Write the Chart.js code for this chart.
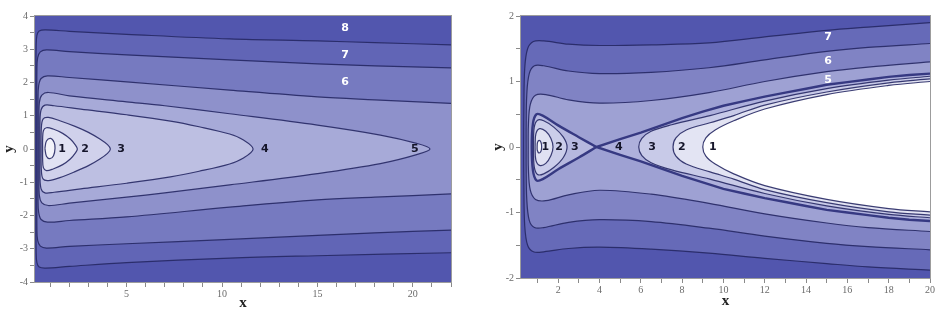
<!DOCTYPE html>
<html><head><meta charset="utf-8">
<script src="https://cdn.jsdelivr.net/npm/chart.js@4.4.0/dist/chart.umd.min.js"></script>
<style>
html,body{margin:0;padding:0;background:#fff;width:950px;height:316px;overflow:hidden}
#cl{position:absolute;left:0;top:0}
#cr{position:absolute;left:470px;top:0}
</style></head><body>
<canvas id="cl" width="470" height="316"></canvas>
<canvas id="cr" width="480" height="316"></canvas>
<script>
// ---------------- LEFT PANEL DATA (contour lines, outermost first) ----------------
const leftXTicks = [1,2,3,4,5,6,7,8,9,10,11,12,13,14,15,16,17,18,19,20,21,22];
const leftXLabels = [5,10,15,20];
const leftYTicks = [-4,-3.5,-3,-2.5,-2,-1.5,-1,-0.5,0,0.5,1,1.5,2,2.5,3,3.5,4];
const leftYLabels = [-4,-3,-2,-1,0,1,2,3,4];

const leftA = [[22,3.13],[18,3.2],[15,3.25],[10.4,3.31],[5,3.45],[2,3.54],[0.75,3.58],[0.42,3.55],[0.3,3.42],[0.26,3.1],[0.25,2],[0.25,0],[0.25,-2],[0.26,-3.1],[0.3,-3.42],[0.42,-3.55],[0.75,-3.58],[2,-3.53],[5,-3.42],[10.4,-3.28],[15,-3.21],[22,-3.12]];
const leftB = [[22,2.44],[18,2.5],[15,2.56],[10.4,2.68],[5,2.83],[2,2.93],[0.8,2.98],[0.48,2.92],[0.34,2.75],[0.3,2.4],[0.3,1.2],[0.3,0],[0.3,-1.2],[0.3,-2.4],[0.34,-2.75],[0.48,-2.92],[0.8,-2.98],[2,-2.93],[5,-2.85],[10.4,-2.72],[15,-2.6],[18,-2.52],[22,-2.44]];
const leftC = [[22,1.37],[18,1.48],[15,1.57],[10.4,1.77],[5,2.02],[2,2.15],[0.85,2.2],[0.52,2.12],[0.39,1.9],[0.36,1.5],[0.36,0],[0.36,-1.5],[0.39,-1.9],[0.52,-2.12],[0.85,-2.2],[2,-2.15],[5,-2.04],[10.4,-1.75],[15,-1.53],[18,-1.45],[22,-1.35]];
const leftD = [[0.41,0],[0.41,0.8],[0.43,1.4],[0.56,1.62],[0.9,1.7],[2,1.6],[5,1.42],[7,1.3],[10.4,1.06],[15,0.72],[18.3,0.42],[20.2,0.17],[20.9,0],[20.2,-0.17],[18.3,-0.44],[15,-0.74],[10.4,-1.08],[7,-1.32],[5,-1.45],[2,-1.63],[0.9,-1.7],[0.56,-1.62],[0.43,-1.4],[0.41,-0.8],[0.41,0]];
const leftE = [[0.46,0],[0.46,0.8],[0.52,1.18],[0.72,1.32],[1.2,1.3],[2.6,1.2],[5,1.03],[7.3,0.84],[8.8,0.67],[10.4,0.45],[11.1,0.28],[11.63,0],[11.1,-0.28],[10.4,-0.45],[8.8,-0.67],[7.3,-0.84],[5,-1.03],[2.6,-1.2],[1.2,-1.3],[0.72,-1.32],[0.52,-1.2],[0.46,-0.8],[0.46,0]];
const leftF = [[0.52,0],[0.53,0.6],[0.62,0.9],[0.9,0.95],[1.5,0.85],[2.3,0.68],[3.0,0.5],[3.6,0.3],[4.0,0.13],[4.15,0],[4.0,-0.13],[3.6,-0.3],[3.0,-0.5],[2.3,-0.68],[1.5,-0.86],[0.9,-0.95],[0.62,-0.9],[0.53,-0.6],[0.52,0]];
const leftG = [[0.6,0],[0.6,0.3],[0.64,0.55],[0.8,0.64],[1.15,0.6],[1.65,0.47],[2.05,0.3],[2.3,0.13],[2.42,0],[2.3,-0.13],[2.05,-0.3],[1.65,-0.47],[1.15,-0.6],[0.8,-0.65],[0.64,-0.56],[0.6,-0.3],[0.6,0]];
const leftH = [[0.72,0.02],[0.8,0.24],[1.02,0.32],[1.2,0.2],[1.25,0.02],[1.17,-0.2],[0.98,-0.29],[0.8,-0.22],[0.72,0.02]];

const leftLabelText = ['1','2','3','4','5','6','7','8'];
const leftLabelX = [1.62,2.82,4.71,12.25,20.1,16.45,16.45,16.45];
const leftLabelY = [0,0,0,0,0,2.02,2.83,3.64];

// ---------------- RIGHT PANEL DATA ----------------
const rightXTicks = [1,2,3,4,5,6,7,8,9,10,11,12,13,14,15,16,17,18,19,20];
const rightXLabels = [2,4,6,8,10,12,14,16,18,20];
const rightYTicks = [-2,-1.5,-1,-0.5,0,0.5,1,1.5,2];
const rightYLabels = [-2,-1,0,1,2];

const rightR1 = [[20,1.9],[17,1.83],[15,1.78],[12,1.68],[9.3,1.59],[6.5,1.56],[4,1.55],[2.5,1.57],[1.3,1.62],[0.8,1.61],[0.52,1.5],[0.38,1.2],[0.34,0.6],[0.33,0],[0.34,-0.6],[0.38,-1.2],[0.52,-1.5],[0.8,-1.6],[1.3,-1.6],[2.5,-1.55],[4,-1.53],[6.5,-1.56],[9.3,-1.62],[12,-1.7],[15,-1.78],[17,-1.83],[20,-1.88]];
const rightR2 = [[20,1.58],[17,1.52],[15,1.46],[12,1.33],[9.3,1.21],[6.5,1.14],[4,1.12],[2.5,1.16],[1.3,1.24],[0.85,1.24],[0.6,1.12],[0.48,0.8],[0.45,0.3],[0.45,0],[0.45,-0.3],[0.48,-0.8],[0.6,-1.12],[0.85,-1.23],[1.3,-1.23],[2.5,-1.15],[4,-1.11],[6.5,-1.14],[9.3,-1.24],[12,-1.36],[15,-1.47],[17,-1.52],[20,-1.57]];
const rightR3 = [[20,1.3],[17,1.22],[15,1.15],[12,1.0],[9.3,0.83],[6.5,0.71],[4,0.67],[2.5,0.72],[1.4,0.8],[0.9,0.79],[0.65,0.65],[0.56,0.35],[0.55,0],[0.56,-0.35],[0.65,-0.66],[0.9,-0.8],[1.4,-0.82],[2.5,-0.73],[4,-0.66],[6.5,-0.72],[9.3,-0.86],[12,-1.02],[15,-1.16],[17,-1.23],[20,-1.29]];
const rightLobe = [[3.85,0],[3.0,0.15],[2.0,0.33],[1.25,0.48],[0.95,0.5],[0.78,0.36],[0.72,0],[0.78,-0.36],[0.95,-0.51],[1.25,-0.49],[2.0,-0.34],[3.0,-0.16],[3.85,0]];
const rightWedge = [[20,1.12],[19,1.1],[18,1.07],[17,1.03],[16,0.99],[15,0.95],[14,0.89],[13,0.83],[12,0.77],[11,0.7],[10,0.63],[9,0.54],[8,0.44],[7,0.33],[6,0.22],[5,0.12],[3.85,0],[5,-0.12],[6,-0.22],[7,-0.33],[8,-0.44],[9,-0.54],[10,-0.64],[11,-0.71],[12,-0.78],[13,-0.84],[14,-0.9],[15,-0.96],[16,-1.0],[17,-1.04],[18,-1.08],[19,-1.11],[20,-1.13]];
const rightC2 = [[0.8,0],[0.84,0.3],[1.0,0.41],[1.3,0.4],[1.8,0.3],[2.25,0.15],[2.43,0],[2.25,-0.16],[1.8,-0.31],[1.3,-0.41],[1.0,-0.42],[0.84,-0.3],[0.8,0]];
const rightC1 = [[0.88,0],[0.92,0.2],[1.1,0.28],[1.4,0.24],[1.65,0.13],[1.75,0],[1.65,-0.13],[1.4,-0.25],[1.1,-0.28],[0.92,-0.2],[0.88,0]];
const rightO = [[0.98,0.0],[1.0,0.07],[1.08,0.1],[1.17,0.07],[1.2,0.0],[1.16,-0.07],[1.06,-0.09],[0.99,-0.05],[0.98,0.0]];
const rightQ3 = [[20,1.08],[18,1.02],[15,0.89],[12,0.7],[9.35,0.48],[7.5,0.34],[6.5,0.24],[6.05,0.13],[5.9,0],[6.05,-0.13],[6.5,-0.24],[7.5,-0.35],[9.35,-0.49],[12,-0.71],[15,-0.9],[18,-1.03],[20,-1.08]];
const rightQ2 = [[20,1.04],[18,0.98],[15,0.84],[12,0.64],[10.5,0.48],[9.35,0.37],[8.2,0.26],[7.7,0.14],[7.56,0],[7.7,-0.14],[8.2,-0.26],[9.35,-0.38],[10.5,-0.49],[12,-0.65],[15,-0.85],[18,-0.99],[20,-1.04]];
const rightQ1 = [[20,1.0],[18,0.94],[15,0.8],[12,0.58],[10.5,0.4],[9.6,0.26],[9.15,0.14],[9.0,0],[9.15,-0.14],[9.6,-0.26],[10.5,-0.41],[12,-0.59],[15,-0.8],[18,-0.94],[20,-0.99]];

const rightLabelText = ['1','2','3','4','3','2','1','7','6','5'];
const rightLabelX = [1.38,2.04,2.81,4.94,6.54,7.99,9.49,15.06,15.06,15.06];
const rightLabelY = [0,0,0,0,0,0,0,1.68,1.31,1.02];

// ---------------- styles ----------------
const BG = '#5256ae';
const LINE = 'rgba(38,40,100,0.9)';
const SEP = '#363982';

const bgPlugin = {
  id: 'bgfill',
  beforeDatasetsDraw(chart, args, opts) {
    const {ctx, chartArea: a} = chart;
    ctx.save(); ctx.fillStyle = opts.color; ctx.fillRect(a.left, a.top, a.width, a.height); ctx.restore();
  }
};
const shapeFill = {
  id: 'shapeFill',
  beforeDatasetDraw(chart, args) {
    const ds = chart.data.datasets[args.index];
    const line = args.meta.dataset;
    if (!ds.areaColor || !line) return;
    const {ctx, chartArea: a} = chart;
    ctx.save();
    ctx.beginPath(); ctx.rect(a.left, a.top, a.width, a.height); ctx.clip();
    ctx.beginPath();
    line.path(ctx);
    ctx.closePath();
    ctx.fillStyle = ds.areaColor;
    ctx.fill();
    ctx.restore();
  }
};
const labelPlugin = {
  id: 'clabels',
  afterDatasetsDraw(chart, args, opts) {
    const {ctx} = chart; const xs = chart.scales.x, ys = chart.scales.y;
    ctx.save();
    ctx.font = 'bold 11px "DejaVu Sans"';
    ctx.textAlign = 'center'; ctx.textBaseline = 'middle';
    opts.text.forEach((t, i) => {
      ctx.fillStyle = opts.light.includes(i) ? '#ffffff' : '#15152a';
      ctx.fillText(t, xs.getPixelForValue(opts.x[i]), ys.getPixelForValue(opts.y[i]));
    });
    ctx.restore();
  }
};
const framePlugin = {
  id: 'frame',
  afterDraw(chart) {
    const {ctx, chartArea: a} = chart;
    ctx.save(); ctx.strokeStyle = '#9c9c9c'; ctx.lineWidth = 1;
    ctx.strokeRect(a.left - 0.5, a.top - 0.5, a.width + 1, a.height + 1);
    ctx.restore();
  }
};

function line(points, area, opt) {
  opt = opt || {};
  return {
    data: points.map(p => ({x: p[0], y: p[1]})),
    showLine: true, pointRadius: 0, pointHoverRadius: 0,
    borderColor: opt.color || LINE, borderWidth: opt.w || 1.2,
    tension: opt.tension === undefined ? 0.35 : opt.tension,
    areaColor: area
  };
}
function ordered(list) {
  const n = list.length;
  list.forEach((d, i) => { d.order = n - i; });
  return list;
}
function scales(o) {
  const tickFont = {family: 'Liberation Serif', size: 10};
  return {
    x: {
      type: 'linear', min: o.xmin, max: o.xmax, z: 1,
      afterBuildTicks: s => { s.ticks = o.xTicks.map(v => ({value: v})); },
      afterFit: s => { s.height = o.xh; },
      ticks: {autoSkip: false, maxRotation: 0, padding: 1, color: '#6a6a6a', font: tickFont,
        callback: v => o.xLabels.includes(v) ? String(v) : ''},
      grid: {color: c => (c.tick && o.xLabels.includes(c.tick.value)) ? 'rgba(150,150,215,0.35)' : 'rgba(0,0,0,0)',
        tickColor: '#8a8a8a', tickLength: 5},
      border: {display: true, color: '#8a8a8a'},
      title: {display: true, text: 'x', color: '#222', font: {family: 'Liberation Serif', size: 15, weight: 'bold'}, padding: {top: 0, bottom: o.xtp}}
    },
    y: {
      type: 'linear', min: o.ymin, max: o.ymax, z: 1,
      afterBuildTicks: s => { s.ticks = o.yTicks.map(v => ({value: v})); },
      afterFit: s => { s.width = o.yw; },
      ticks: {autoSkip: false, padding: 2, color: '#6a6a6a', font: tickFont,
        callback: v => o.yLabels.includes(v) ? String(v) : ''},
      grid: {color: c => (c.tick && o.yLabels.includes(c.tick.value)) ? 'rgba(150,150,215,0.28)' : 'rgba(0,0,0,0)',
        tickColor: '#8a8a8a', tickLength: 5},
      border: {display: true, color: '#8a8a8a'},
      title: {display: true, text: 'y', color: '#222', font: {family: 'Liberation Serif', size: 15, weight: 'bold'}, padding: {top: 0, bottom: 0}}
    }
  };
}

new Chart(document.getElementById('cl'), {
  type: 'scatter',
  data: {datasets: ordered([
    line(leftA, '#6165b6'),
    line(leftB, '#767ac0'),
    line(leftC, '#8e91cb'),
    line(leftD, '#a7aad8'),
    line(leftE, '#bdbfe2'),
    line(leftF, '#d0d1eb'),
    line(leftG, '#e1e2f3'),
    line(leftH, '#f3f3fa')
  ])},
  options: {
    responsive: false, animation: false, events: [],
    layout: {padding: {left: 0, right: 19, top: 16, bottom: 0}},
    scales: scales({xmin: 0.2, xmax: 22, ymin: -4, ymax: 4, xTicks: leftXTicks, xLabels: leftXLabels,
      yTicks: leftYTicks, yLabels: leftYLabels, xh: 34, yw: 35, xtp: 4}),
    plugins: {legend: {display: false}, tooltip: {enabled: false},
      bgfill: {color: BG},
      clabels: {text: leftLabelText, x: leftLabelX, y: leftLabelY, light: [5, 6, 7]}}
  },
  plugins: [bgPlugin, shapeFill, labelPlugin, framePlugin]
});

new Chart(document.getElementById('cr'), {
  type: 'scatter',
  data: {datasets: ordered([
    line(rightR1, '#666ab8'),
    line(rightR2, '#8083c4'),
    line(rightR3, '#9ea1d3'),
    line(rightLobe, '#b6b8df', {color: SEP, w: 2.4}),
    line(rightWedge, '#aeb0dc', {color: SEP, w: 2.4, tension: 0}),
    line(rightC2, '#cbcdea'),
    line(rightC1, '#e0e1f2'),
    line(rightO, '#f6f6fb'),
    line(rightQ3, '#c8cae8'),
    line(rightQ2, '#e3e4f3'),
    line(rightQ1, '#ffffff')
  ])},
  options: {
    responsive: false, animation: false, events: [],
    layout: {padding: {left: 19, right: 20, top: 16, bottom: 0}},
    scales: scales({xmin: 0.2, xmax: 20, ymin: -2, ymax: 2, xTicks: rightXTicks, xLabels: rightXLabels,
      yTicks: rightYTicks, yLabels: rightYLabels, xh: 38, yw: 32, xtp: 6}),
    plugins: {legend: {display: false}, tooltip: {enabled: false},
      bgfill: {color: BG},
      clabels: {text: rightLabelText, x: rightLabelX, y: rightLabelY, light: [7, 8, 9]}}
  },
  plugins: [bgPlugin, shapeFill, labelPlugin, framePlugin]
});
</script>
</body></html>
